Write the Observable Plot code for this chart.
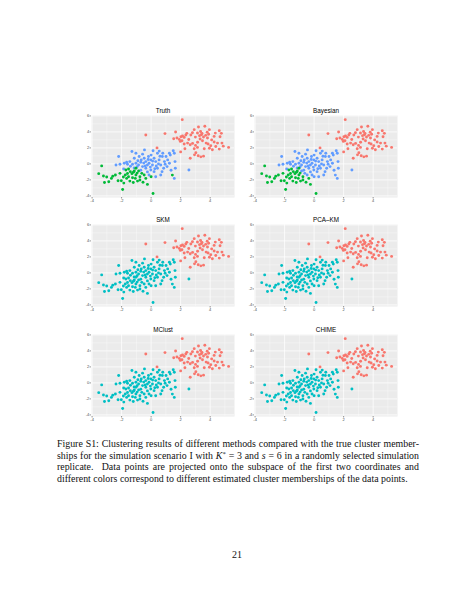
<!DOCTYPE html>
<html>
<head>
<meta charset="utf-8">
<script src="https://cdn.jsdelivr.net/npm/d3@7"></script>
<script src="https://cdn.jsdelivr.net/npm/@observablehq/plot@0.6"></script>
<style>
  html, body { margin: 0; padding: 0; background: #fff; }
  #page { position: relative; width: 474px; height: 613px; overflow: hidden; background: #fff; }
  .panel { position: absolute; }
  .panel svg { display: block; overflow: visible; }
  #caption { position: absolute; left: 57px; top: 438px; width: 362px;
    font-family: "Liberation Serif", "DejaVu Serif", serif; font-size: 9.9px; line-height: 11.6px; color: #111; }
  #caption .ln { text-align: justify; text-align-last: justify; white-space: nowrap; }
  #caption .ln.last { text-align: left; text-align-last: left; }
  #caption sup { font-size: 0.7em; line-height: 0; vertical-align: 0.45em; }
  #pagenum { position: absolute; left: 0; width: 474px; top: 549px; text-align: center;
    font-family: "Liberation Serif", "DejaVu Serif", serif; font-size: 10px; color: #111; }
</style>
</head>
<body>
<div id="page">
  <div id="caption">
    <div class="ln">Figure S1: Clustering results of different methods compared with the true cluster member-</div>
    <div class="ln">ships for the simulation scenario I with <i>K</i><sup>*</sup> = 3 and <i>s</i> = 6 in a randomly selected simulation</div>
    <div class="ln">replicate.&nbsp; Data points are projected onto the subspace of the first two coordinates and</div>
    <div class="ln last">different colors correspond to different estimated cluster memberships of the data points.</div>
  </div>
  <div id="pagenum">21</div>
</div>
<script>
// ---- Data (first two coordinates) ----
// Points of true cluster 1 (red)
const redPts = [
[2.11,5.53],[-0.36,3.62],[0.94,3.79],[2.92,4.28],[3.21,4.62],[3.64,4.70],[3.95,4.28],[4.62,4.15],[4.76,3.82],[4.67,3.40],
[1.66,3.99],[1.53,3.15],[1.75,3.23],[1.91,3.06],[2.02,3.40],[2.13,3.48],[2.24,3.31],[1.98,2.81],[2.09,2.90],[2.42,3.82],
[2.69,3.61],[3.14,3.86],[3.28,3.53],[3.41,3.65],[3.55,3.36],[3.70,3.57],[3.82,3.23],[3.32,3.11],[3.48,2.90],[3.73,2.60],
[4.27,3.44],[4.27,2.73],[2.47,2.60],[2.65,2.39],[2.81,2.56],[3.01,2.31],[2.92,1.89],[3.14,2.06],[3.03,1.39],[3.19,1.01],
[3.37,0.88],[3.55,0.97],[2.65,0.71],[2.94,1.13],[4.15,1.76],[4.38,2.18],[4.62,1.85],[4.89,2.22],[5.25,2.06],[3.86,2.48],
[4.04,2.27],[2.24,2.48],[2.29,1.89],[0.40,2.00],[3.45,3.80],[3.00,3.35],[2.55,3.05],[3.90,3.70],[4.50,2.60],[2.00,1.50],
[3.60,1.90],[4.10,3.00],[3.35,4.05],[3.80,3.95],[2.80,3.90],[4.35,3.85],[3.15,2.70],[2.35,3.60],[4.80,2.60],[3.95,1.95]
];
// Points of true cluster 3 (blue)
const bluePts = [
[-2.20,0.92],[-2.38,-0.13],[-2.11,-0.04],[-1.82,0.08],[-1.60,-0.04],[-1.86,-0.63],[-1.30,1.55],[-1.03,1.34],[-1.14,0.71],[-0.81,0.92],
[-0.58,1.22],[-0.67,0.50],[-0.47,0.71],[-0.36,0.29],[-0.18,0.92],[-0.14,0.08],[-0.02,0.50],[0.09,-0.13],[0.20,0.71],[0.31,0.29],
[0.43,1.34],[0.54,0.50],[0.65,-0.13],[0.76,0.92],[-0.58,-0.34],[-0.36,-0.55],[-0.25,-0.13],[-0.02,-0.76],[0.20,-0.97],[0.43,-0.55],
[-0.85,-0.13],[-1.03,0.08],[-1.26,-0.04],[0.65,-1.39],[0.31,-1.60],[-0.14,-1.39],[-1.44,0.29],[-1.66,0.20],[0.13,1.64],[-0.45,1.75],
[0.79,1.34],[1.01,0.92],[1.24,1.34],[1.57,1.34],[0.90,0.29],[1.12,0.50],[1.24,0.08],[1.08,-0.34],[0.85,-0.55],[0.74,-0.97],
[1.62,0.29],[1.64,-0.55],[0.50,0.00],[2.56,-0.76],[1.57,-1.81],[-0.70,-0.80],[-0.50,0.10],[0.00,1.10],[-0.90,0.40],[0.35,-0.25],
[1.30,1.10],[-0.25,-1.00],[-1.15,-0.50],[0.55,1.60],[1.50,1.65],[0.95,-0.05],[-0.95,-0.35],[-0.40,-0.25],[0.10,0.35],[-0.70,0.20],
[0.25,-0.60],[-1.40,-0.30],[0.60,0.95],[-0.20,0.55],[1.35,-0.80],[-0.05,-0.40]
];
// Points of true cluster 2 (green)
const greenPts = [
[-3.35,-0.25],[-3.55,-1.22],[-3.23,-1.52],[-3.01,-1.64],[-2.69,-1.81],[-3.16,-2.32],[-2.87,-2.23],[-2.42,-1.39],[-2.24,-2.11],[-2.11,-1.18],
[-1.93,-3.20],[-1.88,-1.64],[-1.75,-1.39],[-1.66,-1.81],[-1.53,-1.60],[-1.44,-2.15],[-1.30,-1.22],[-1.26,-1.73],[-1.14,-0.89],[-1.03,-1.39],
[-0.92,-2.15],[-0.85,-0.89],[-0.76,-1.60],[-0.63,-1.18],[-0.47,-1.39],[-0.36,-1.81],[-0.25,-2.56],[0.13,-3.70],[-1.71,-0.76],[-1.53,-0.63],
[-1.41,-0.97],[-1.03,-0.55],[-2.02,-2.11],[-1.21,-2.32],[-0.76,-2.02],[-1.07,-1.81],[1.44,-1.40],[0.00,-1.60],[-1.20,-1.05],[-0.95,-1.15],
[-1.60,-1.20],[-2.60,-1.55],[-0.55,-2.30],[-1.85,-2.40]
];
// Green points (indices into greenPts) that the Bayesian method puts in the blue cluster
const bayesGreenAsBlue = [21, 23, 24, 36, 37];

const titles = ["Truth", "Bayesian", "SKM", "PCA\u2013KM", "MClust", "CHIME"];
const numClusters = [3, 3, 2, 2, 2, 2];
const xTicks = [-4, -2, 0, 2, 4];
const yTicks = [-4, -2, 0, 2, 4, 6];
const xMinor = [-3, -1, 1, 3, 5];
const yMinor = [-3, -1, 1, 3, 5];
const hue3 = ["#F8766D", "#00BA38", "#619CFF"];
const hue2 = ["#F8766D", "#00BFC4"];

// ---- Build cluster memberships per method ----
function membership(method) {
  const pts = [];
  redPts.forEach(([x, y]) => pts.push({x, y, c: 1}));
  bluePts.forEach(([x, y]) => pts.push({x, y, c: method === "two" ? 2 : 3}));
  greenPts.forEach(([x, y], i) => {
    let c = 2;
    if (method === "bayes" && bayesGreenAsBlue.includes(i)) c = 3;
    pts.push({x, y, c});
  });
  return pts;
}
const methodKind = ["truth", "bayes", "two", "two", "two", "two"];

// ---- Layout ----
const colLeft = [75, 238];
const rowTop = [102, 211, 321];

function panel(title, pts, k) {
  return Plot.plot({
    width: 165, height: 103,
    marginLeft: 16, marginRight: 6, marginTop: 13, marginBottom: 8,
    style: {fontFamily: "'Liberation Sans', Arial, sans-serif", fontSize: "4px", background: "transparent", overflow: "visible"},
    x: {domain: [-4.04, 5.65], label: null},
    y: {domain: [-4.2, 6.05], label: null},
    color: {domain: d3.range(1, k + 1), range: k === 3 ? hue3 : hue2},
    marks: [
      Plot.frame({fill: "#EBEBEB", stroke: null}),
      Plot.gridX(xMinor, {stroke: "#fff", strokeOpacity: 1, strokeWidth: 0.35}),
      Plot.gridY(yMinor, {stroke: "#fff", strokeOpacity: 1, strokeWidth: 0.35}),
      Plot.gridX(xTicks, {stroke: "#fff", strokeOpacity: 1, strokeWidth: 0.75}),
      Plot.gridY(yTicks, {stroke: "#fff", strokeOpacity: 1, strokeWidth: 0.75}),
      Plot.axisX(xTicks, {tickSize: 1.5, tickPadding: 0.6, stroke: "#333", strokeWidth: 0.5, fill: "#4D4D4D", fontSize: 4, label: null, tickFormat: d => String(d)}),
      Plot.axisY(yTicks, {tickSize: 1.5, tickPadding: 0.8, stroke: "#333", strokeWidth: 0.5, fill: "#4D4D4D", fontSize: 4, label: null, tickFormat: d => String(d)}),
      Plot.dot(pts, {x: "x", y: "y", fill: "c", r: 1.45, stroke: null}),
      Plot.text([title], {frameAnchor: "top", dy: -2.2, lineAnchor: "bottom", fontSize: 6.3, fill: "#000"})
    ]
  });
}

const page = document.getElementById("page");
titles.forEach((t, i) => {
  const div = document.createElement("div");
  div.className = "panel";
  div.style.left = colLeft[i % 2] + "px";
  div.style.top = rowTop[Math.floor(i / 2)] + "px";
  div.appendChild(panel(t, membership(methodKind[i]), numClusters[i]));
  page.appendChild(div);
});
</script>
</body>
</html>
